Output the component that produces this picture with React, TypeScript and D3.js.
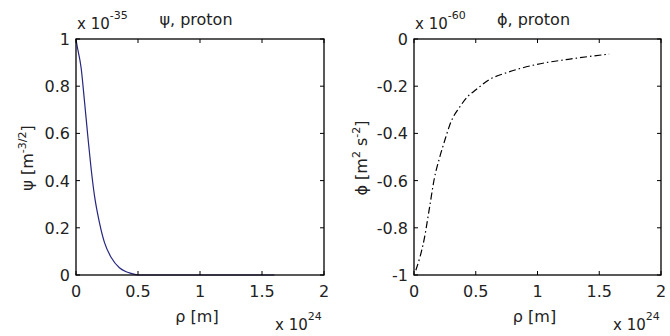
import React from "react";
import * as d3 from "d3";

const psiRho = [0, 0.006, 0.042, 0.069, 0.095, 0.122, 0.149, 0.19, 0.23, 0.284, 0.35, 0.4, 0.445, 0.5, 1.0, 1.6];
const psiVal = [1, 0.98, 0.875, 0.733, 0.59, 0.45, 0.336, 0.22, 0.137, 0.074, 0.031, 0.015, 0.007, 0, 0, 0];

const phiRho = [0.015, 0.083, 0.124, 0.165, 0.206, 0.246, 0.3, 0.368, 0.436, 0.504, 0.61, 0.748, 0.88, 0.99, 1.25, 1.58];
const phiVal = [-0.98, -0.847, -0.72, -0.59, -0.505, -0.435, -0.35, -0.29, -0.243, -0.214, -0.172, -0.143, -0.122, -0.108, -0.086, -0.064];

const xTicks = [0, 0.5, 1, 1.5, 2];
const xTickLabels = ["0", "0.5", "1", "1.5", "2"];
const psiTicks = [0, 0.2, 0.4, 0.6, 0.8, 1];
const psiTickLabels = ["0", "0.2", "0.4", "0.6", "0.8", "1"];
const phiTicks = [-1, -0.8, -0.6, -0.4, -0.2, 0];
const phiTickLabels = ["-1", "-0.8", "-0.6", "-0.4", "-0.2", "0"];

const FONT = "'DejaVu Sans', Verdana, sans-serif";
const TXT = "#222";

type PanelProps = {
  x0: number;
  x1: number;
  y0: number;
  y1: number;
  xs: number[];
  ys: number[];
  yDomain: [number, number];
  yTicks: number[];
  yTickLabels: string[];
  title: string;
  yExp: string;
  yLabel: React.ReactNode;
  yLabelX: number;
  stroke: string;
  dash?: string;
};

function Panel(p: PanelProps) {
  const x = d3.scaleLinear().domain([0, 2]).range([p.x0, p.x1]);
  const y = d3.scaleLinear().domain(p.yDomain).range([p.y1, p.y0]);
  const line = d3
    .line<number>()
    .x((_, i) => x(p.xs[i]))
    .y((d) => y(d))
    .curve(d3.curveMonotoneX);
  const tl = 4;
  const cx = (p.x0 + p.x1) / 2;
  const cy = (p.y0 + p.y1) / 2;
  return (
    <g fontFamily={FONT} fill={TXT}>
      <path d={line(p.ys) || ""} fill="none" stroke={p.stroke} strokeWidth={1.2} strokeDasharray={p.dash} />
      <rect x={p.x0} y={p.y0} width={p.x1 - p.x0} height={p.y1 - p.y0} fill="none" stroke="#000" strokeWidth={1.3} />
      {xTicks.map((t, i) => (
        <g key={"x" + i}>
          <line x1={x(t)} x2={x(t)} y1={p.y1} y2={p.y1 - tl} stroke="#000" />
          <line x1={x(t)} x2={x(t)} y1={p.y0} y2={p.y0 + tl} stroke="#000" />
          <text x={x(t)} y={p.y1 + 22} fontSize={16} textAnchor="middle">
            {xTickLabels[i]}
          </text>
        </g>
      ))}
      {p.yTicks.map((t, i) => (
        <g key={"y" + i}>
          <line x1={p.x0} x2={p.x0 + tl} y1={y(t)} y2={y(t)} stroke="#000" />
          <line x1={p.x1} x2={p.x1 - tl} y1={y(t)} y2={y(t)} stroke="#000" />
          <text x={p.x0 - 6} y={y(t) + 6} fontSize={16} textAnchor="end">
            {p.yTickLabels[i]}
          </text>
        </g>
      ))}
      <text x={cx - 4} y={25} fontSize={16} textAnchor="middle">
        {p.title}
      </text>
      <text x={p.x0 + 1} y={29} fontSize={15}>
        x 10
        <tspan dy={-10} fontSize={11}>
          {p.yExp}
        </tspan>
      </text>
      <text x={cx - 3} y={322} fontSize={16} textAnchor="middle">
        ρ [m]
      </text>
      <text x={p.x0 + 199} y={330} fontSize={15}>
        x 10
        <tspan dy={-10} fontSize={11}>
          24
        </tspan>
      </text>
      <text transform={`translate(${p.yLabelX},${cy + 1}) rotate(-90)`} fontSize={16} textAnchor="middle">
        {p.yLabel}
      </text>
    </g>
  );
}

export default function App() {
  return (
    <svg
      width={670}
      height={336}
      style={{ position: "fixed", left: 0, top: 0, background: "#fff" }}
    >
      <rect width={670} height={336} fill="#fff" />
      <Panel
        x0={76}
        x1={324}
        y0={39}
        y1={275}
        xs={psiRho}
        ys={psiVal}
        yDomain={[0, 1]}
        yTicks={psiTicks}
        yTickLabels={psiTickLabels}
        title="ψ, proton"
        yExp="-35"
        yLabel={
          <>
            ψ [m<tspan dy={-7} fontSize={11}>-3/2</tspan>
            <tspan dy={7}>]</tspan>
          </>
        }
        yLabelX={33}
        stroke="#26267f"
      />
      <Panel
        x0={414}
        x1={661}
        y0={39}
        y1={275}
        xs={phiRho}
        ys={phiVal}
        yDomain={[-1, 0]}
        yTicks={phiTicks}
        yTickLabels={phiTickLabels}
        title="ϕ, proton"
        yExp="-60"
        yLabel={
          <>
            ϕ [m<tspan dy={-7} fontSize={11}>2</tspan>
            <tspan dy={7}> s</tspan>
            <tspan dy={-7} fontSize={11}>-2</tspan>
            <tspan dy={7}>]</tspan>
          </>
        }
        yLabelX={367}
        stroke="#000"
        dash="7,3,1.5,3"
      />
    </svg>
  );
}
